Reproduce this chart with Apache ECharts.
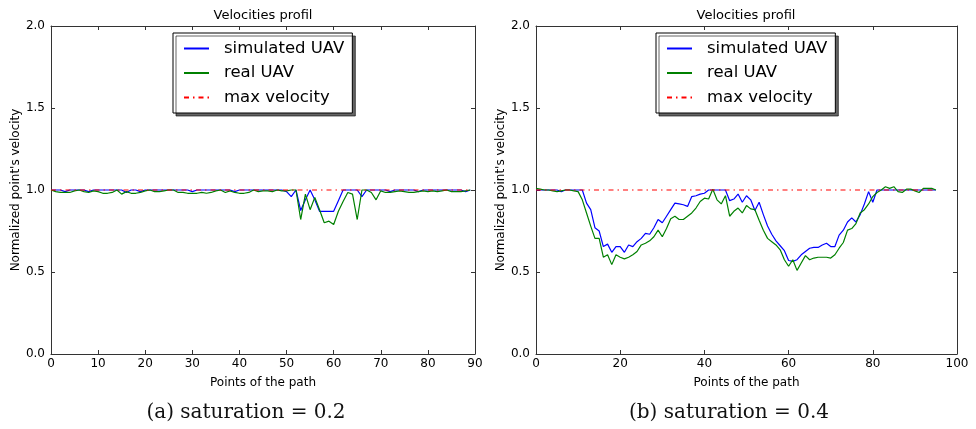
<!DOCTYPE html>
<html><head><meta charset="utf-8">
<script src="https://cdn.jsdelivr.net/npm/echarts@6/dist/echarts.min.js"></script>
<style>html,body{margin:0;padding:0;background:#fff}#c{width:976px;height:429px}</style>
</head><body><div id="c"></div>
<script>
// ---- data (a) saturation = 0.2 : points 0..89 ----
const simA = [1.0,1.0,1.0,0.99,1.0,1.0,1.0,1.0,0.99,1.0,
  1.0,1.0,1.0,1.0,1.0,1.0,0.985,1.0,1.0,0.99,
  1.0,1.0,1.0,1.0,1.0,1.0,1.0,1.0,1.0,1.0,
  0.99,1.0,1.0,1.0,1.0,1.0,1.0,1.0,1.0,0.99,
  1.0,1.0,1.0,1.0,1.0,1.0,1.0,1.0,1.0,1.0,
  0.99,0.96,1.0,0.875,0.94,1.0,0.94,0.87,0.87,0.87,
  0.87,0.935,1.0,1.0,1.0,1.0,0.96,1.0,1.0,1.0,
  1.0,1.0,0.99,1.0,1.0,1.0,1.0,1.0,0.99,1.0,
  1.0,1.0,1.0,1.0,1.0,1.0,1.0,1.0,0.99,1.0];
const realA = [1.0,0.99,0.985,0.985,0.985,0.995,1.0,0.99,0.985,0.995,
  0.99,0.98,0.98,0.985,1.0,0.975,0.99,0.98,0.98,0.985,
  0.995,1.0,0.99,0.99,0.995,1.0,1.0,0.985,0.985,0.98,
  0.98,0.98,0.985,0.98,0.985,0.995,1.0,0.985,0.995,0.985,
  0.98,0.98,0.985,1.0,0.99,0.995,0.995,0.99,1.0,0.995,
  0.995,1.0,1.0,0.82,0.975,0.88,0.955,0.88,0.80,0.81,
  0.79,0.87,0.93,0.985,0.975,0.82,1.0,1.0,0.985,0.94,
  0.995,0.985,0.985,0.99,0.995,0.99,0.985,0.985,0.99,0.995,
  0.99,0.995,0.99,0.995,1.0,0.99,0.99,0.99,0.995,1.0];
const maxAX = [0, 89];
const maxAY = [1.0, 1.0];

// ---- data (b) saturation = 0.4 : points 0..95 ----
const simB = [1.0,1.0,1.0,1.0,1.0,1.0,0.99,1.0,1.0,1.0,
  1.0,1.0,0.92,0.88,0.77,0.75,0.655,0.67,0.62,0.655,
  0.655,0.62,0.665,0.655,0.685,0.705,0.735,0.73,0.77,0.82,
  0.80,0.84,0.88,0.92,0.915,0.91,0.90,0.96,0.965,0.975,
  0.98,1.0,1.0,1.0,1.0,1.0,0.935,0.945,0.975,0.925,
  0.965,0.94,0.875,0.925,0.85,0.78,0.73,0.69,0.66,0.63,
  0.57,0.565,0.575,0.605,0.625,0.645,0.65,0.65,0.665,0.675,
  0.655,0.655,0.725,0.755,0.805,0.83,0.805,0.85,0.915,0.99,
  0.925,1.0,1.0,1.0,1.0,1.0,1.0,1.0,1.0,1.0,
  1.0,1.0,1.0,1.0,1.0,1.0];
const realB = [1.01,1.005,1.0,1.0,0.995,0.99,0.995,1.0,1.0,0.995,
  0.99,0.94,0.86,0.78,0.705,0.705,0.59,0.605,0.545,0.605,
  0.59,0.58,0.59,0.605,0.625,0.665,0.675,0.69,0.715,0.755,
  0.715,0.765,0.825,0.84,0.82,0.82,0.84,0.86,0.89,0.93,
  0.95,0.945,1.005,0.94,0.915,0.965,0.84,0.87,0.89,0.86,
  0.905,0.885,0.88,0.815,0.755,0.705,0.685,0.665,0.635,0.575,
  0.535,0.575,0.51,0.555,0.6,0.575,0.585,0.59,0.59,0.59,
  0.585,0.605,0.645,0.68,0.755,0.765,0.795,0.86,0.88,0.915,
  0.96,0.985,1.0,1.02,1.01,1.02,0.99,0.985,1.005,1.005,
  0.995,0.985,1.01,1.01,1.01,1.0];
const maxBX = [0, 95];
const maxBY = [1.0, 1.0];

const yTicks = ['0.0','0.5','1.0','1.5','2.0'];
const seriesNames = ['simulated UAV','real UAV','max velocity'];
const titleText = 'Velocities profil';
const xName = 'Points of the path';
const yName = "Normalized point's velocity";
const captions = ['(a) saturation = 0.2', '(b) saturation = 0.4'];

const FONT = 'DejaVu Sans';
const AX = '#333';
const pairs = (arr) => arr.map((v, i) => [i, v]);
const zipXY = (xs, ys) => xs.map((x, i) => [x, ys[i]]);

function xAxes(grid, max, interval) {
  return [{
    type: 'value', gridIndex: grid, min: 0, max: max, interval: interval,
    name: xName, nameLocation: 'middle', nameGap: 23,
    nameTextStyle: {fontFamily: FONT, fontSize: 12, color: '#000'},
    axisLine: {show: true, onZero: false, lineStyle: {color: AX, width: 1}},
    axisTick: {show: true, inside: true, length: 4, lineStyle: {color: AX}},
    axisLabel: {fontFamily: FONT, fontSize: 12, color: '#000', margin: 4},
    splitLine: {show: false}
  }, {
    type: 'value', gridIndex: grid, position: 'top', min: 0, max: max, interval: interval,
    axisLine: {show: true, onZero: false, lineStyle: {color: AX, width: 1}},
    axisTick: {show: true, inside: true, length: 4, lineStyle: {color: AX}},
    axisLabel: {show: false}, splitLine: {show: false}
  }];
}
function yAxes(grid) {
  return [{
    type: 'value', gridIndex: grid, min: 0, max: 2, interval: 0.5,
    name: yName, nameLocation: 'middle', nameGap: 26,
    nameTextStyle: {fontFamily: FONT, fontSize: 12, color: '#000'},
    axisLine: {show: true, onZero: false, lineStyle: {color: AX, width: 1}},
    axisTick: {show: true, inside: true, length: 4, lineStyle: {color: AX}},
    axisLabel: {fontFamily: FONT, fontSize: 12, color: '#000', margin: 6,
      formatter: (v) => yTicks[Math.round(v / 0.5)]},
    splitLine: {show: false}
  }, {
    type: 'value', gridIndex: grid, position: 'right', min: 0, max: 2, interval: 0.5,
    axisLine: {show: true, onZero: false, lineStyle: {color: AX, width: 1}},
    axisTick: {show: true, inside: true, length: 4, lineStyle: {color: AX}},
    axisLabel: {show: false}, splitLine: {show: false}
  }];
}
function lineSeries(name, data, xi, yi, color, type) {
  return {
    name: name, type: 'line', xAxisIndex: xi, yAxisIndex: yi, data: data,
    symbol: 'none', showSymbol: false, smooth: false, animation: false,
    lineStyle: {color: color, width: 1.2, type: type || 'solid'},
    itemStyle: {color: color}
  };
}
function legendAt(left) {
  return {
    orient: 'vertical', left: left, top: 33,
    itemWidth: 25, itemHeight: 14, itemGap: 7.5,
    padding: [7, 8, 7, 10],
    backgroundColor: '#fff', borderColor: '#000', borderWidth: 1, borderRadius: 0,
    shadowColor: 'rgba(0,0,0,0.6)', shadowOffsetX: 3, shadowOffsetY: 3, shadowBlur: 0,
    itemStyle: {opacity: 0, borderWidth: 0},
    textStyle: {fontFamily: FONT, fontSize: 16.5, color: '#000', padding: [0, 0, 0, 10]},
    data: seriesNames, selectedMode: false
  };
}
const dashDot = [5, 4, 1.5, 4];

const chart = echarts.init(document.getElementById('c'), null, {renderer: 'canvas'});
chart.setOption({
  animation: false,
  backgroundColor: '#fff',
  grid: [
    {left: 51, top: 26, width: 424, height: 328},
    {left: 536, top: 26, width: 421, height: 328}
  ],
  xAxis: [...xAxes(0, 90, 10), ...xAxes(1, 100, 20)],
  yAxis: [...yAxes(0), ...yAxes(1)],
  legend: [legendAt(173), legendAt(656)],
  series: [
    lineSeries(seriesNames[0], pairs(simA), 0, 0, '#0000ff'),
    lineSeries(seriesNames[1], pairs(realA), 0, 0, '#008000'),
    lineSeries(seriesNames[2], zipXY(maxAX, maxAY), 0, 0, '#ff0000', dashDot),
    lineSeries(seriesNames[0], pairs(simB), 2, 2, '#0000ff'),
    lineSeries(seriesNames[1], pairs(realB), 2, 2, '#008000'),
    lineSeries(seriesNames[2], zipXY(maxBX, maxBY), 2, 2, '#ff0000', dashDot)
  ],
  graphic: [
    {type: 'text', x: 263, y: 16, style: {text: titleText, font: '13px "DejaVu Sans"', fill: '#000', align: 'center', verticalAlign: 'middle'}},
    {type: 'text', x: 746, y: 16, style: {text: titleText, font: '13px "DejaVu Sans"', fill: '#000', align: 'center', verticalAlign: 'middle'}},
    {type: 'text', x: 246, y: 413, style: {text: captions[0], font: '20px "DejaVu Serif"', fill: '#111', align: 'center', verticalAlign: 'middle'}},
    {type: 'text', x: 729, y: 413, style: {text: captions[1], font: '20px "DejaVu Serif"', fill: '#111', align: 'center', verticalAlign: 'middle'}}
  ]
});
</script></body></html>
